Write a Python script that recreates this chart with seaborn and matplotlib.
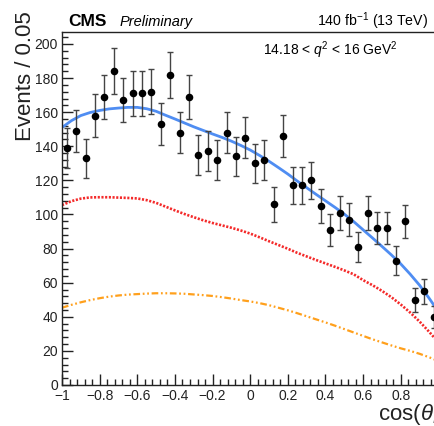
"""
plot.py
-------
cos(theta_K) projection of the fit in the 14.18 < q^2 < 16 GeV^2 bin
(CMS Preliminary, 140 fb^-1). Data points with errors plus the total fit
and its two components. Saves out.png.
"""

import matplotlib
matplotlib.use("Agg")
import matplotlib.pyplot as plt
import matplotlib.ticker as mtick
import pandas as pd
import seaborn as sns

# ---------------------------------------------------------------------------
# Data
# ---------------------------------------------------------------------------

BIN_CENTERS = [
    -0.975, -0.925, -0.875, -0.825, -0.775, -0.725, -0.675, -0.625, -0.575, -0.525,
    -0.475, -0.425, -0.375, -0.325, -0.275, -0.225, -0.175, -0.125, -0.075, -0.025,
    0.025, 0.075, 0.125, 0.175, 0.225, 0.275, 0.325, 0.375, 0.425, 0.475,
    0.525, 0.575, 0.625, 0.675, 0.725, 0.775, 0.825, 0.875, 0.925, 0.975,
]
EVENTS = [
    139, 149, 133, 158, 169, 184, 167, 171, 171, 172,
    153, 182, 148, 169, 135, 137, 132, 148, 134, 145,
    130, 132, 106, 146, 117, 117, 120, 105, 91, 101,
    97, 81, 101, 92, 92, 73, 96, 50, 55, 40,
]
EVENT_ERRORS = [
    11.8, 12.2, 11.5, 12.6, 13.0, 13.6, 12.9, 13.1, 13.1, 13.1,
    12.4, 13.5, 12.1, 13.0, 11.6, 11.7, 11.5, 12.1, 11.6, 12.0,
    11.4, 11.5, 10.3, 12.1, 10.8, 10.8, 10.9, 10.2, 9.5, 10.1,
    9.9, 9.0, 10.1, 9.6, 9.6, 8.5, 9.8, 7.1, 7.4, 6.3,
]

CURVE_X = [
    -1.00, -0.95, -0.90, -0.85, -0.80, -0.75, -0.70, -0.65, -0.60, -0.55,
    -0.50, -0.45, -0.40, -0.35, -0.30, -0.25, -0.20, -0.15, -0.10, -0.05,
    0.00, 0.05, 0.10, 0.15, 0.20, 0.25, 0.30, 0.35, 0.40, 0.45,
    0.50, 0.55, 0.60, 0.65, 0.70, 0.75, 0.80, 0.85, 0.90, 0.95, 1.00,
]
TOTAL_FIT = [
    151.0, 155.0, 158.0, 159.8, 161.0, 161.9, 162.4, 162.8, 162.8, 162.0,
    160.5, 158.2, 156.0, 153.7, 151.4, 149.3, 147.2, 145.2, 143.0, 140.5,
    137.8, 134.6, 131.2, 127.5, 123.7, 119.6, 115.7, 111.8, 108.0, 104.2,
    100.2, 95.8, 91.0, 86.2, 81.3, 76.3, 71.0, 65.0, 58.5, 51.0, 43.0,
]
SIGNAL = [
    105.5, 107.8, 109.3, 110.0, 110.1, 110.1, 109.9, 109.7, 109.4, 108.4,
    106.8, 104.6, 102.4, 100.3, 98.4, 96.6, 95.0, 93.6, 92.2, 90.6,
    88.8, 86.6, 84.3, 82.1, 79.9, 77.5, 75.4, 73.3, 71.3, 69.3,
    67.2, 64.9, 61.5, 58.5, 55.2, 51.5, 47.2, 42.5, 37.2, 31.3, 25.0,
]
BACKGROUND = [
    45.3, 47.0, 48.5, 49.8, 50.9, 51.8, 52.5, 53.0, 53.3, 53.6,
    53.8, 53.8, 53.7, 53.5, 53.1, 52.7, 52.2, 51.5, 50.7, 49.8,
    49.0, 48.0, 46.8, 45.3, 43.8, 42.1, 40.3, 38.5, 36.7, 34.8,
    32.8, 30.8, 28.8, 26.8, 25.0, 23.2, 21.5, 20.0, 18.3, 16.3, 14.0,
]

X_LABEL = r"cos($\theta_{K}$)"
Y_LABEL = "Events / 0.05"

# ---------------------------------------------------------------------------
# Style
# ---------------------------------------------------------------------------

sns.set_theme(style="ticks")
plt.rcParams["font.family"] = ["Liberation Sans", "DejaVu Sans"]
plt.rcParams.update({
    "mathtext.fontset": "custom",
    "mathtext.rm": "Liberation Sans",
    "mathtext.it": "Liberation Sans:italic",
    "mathtext.bf": "Liberation Sans:bold",
    "axes.unicode_minus": True,
})

BLUE = "#4f8df2"
RED = "#f42a2a"
ORANGE = "#ffa01c"


def _fmt(v, _):
    v = round(v, 6)
    if v >= 0.999 and v < 1.001:
        return ""  # sits on the cropped right border in the original
    s = f"{v:g}"
    if s in ("-0", "0"):
        return "0"
    return s.replace("-", "\u2212")


# ---------------------------------------------------------------------------
# Figure
# ---------------------------------------------------------------------------

fig = plt.figure(figsize=(4.34, 4.26), dpi=100)
# axes run a little past the right border, as in the cropped original
ax = fig.add_axes([62 / 434, 41 / 426, 376.4 / 434, 353 / 426])

curves = pd.DataFrame({
    "x": CURVE_X,
    "total": TOTAL_FIT,
    "signal": SIGNAL,
    "background": BACKGROUND,
})

sns.lineplot(data=curves, x="x", y="background", ax=ax, color=ORANGE,
             linewidth=1.6, linestyle=(0, (3.0, 1.2, 0.8, 1.2, 0.8, 1.2)),
             estimator=None, sort=False, legend=False)
sns.lineplot(data=curves, x="x", y="signal", ax=ax, color=RED,
             linewidth=1.9, linestyle=(0, (0.8, 0.6)),
             estimator=None, sort=False, legend=False)
sns.lineplot(data=curves, x="x", y="total", ax=ax, color=BLUE,
             linewidth=2.0, estimator=None, sort=False, legend=False)

ax.errorbar(BIN_CENTERS, EVENTS, yerr=EVENT_ERRORS, fmt="none",
            ecolor="#444444", elinewidth=1.0, capsize=2.4, capthick=1.0, zorder=4)
sns.scatterplot(x=BIN_CENTERS, y=EVENTS, ax=ax, color="black", s=30,
                edgecolor="black", linewidth=0, zorder=5)

ax.set_xlim(-1, 1)
ax.set_ylim(0, 207)

ax.xaxis.set_major_locator(mtick.MultipleLocator(0.2))
ax.xaxis.set_minor_locator(mtick.MultipleLocator(0.04))
ax.yaxis.set_major_locator(mtick.MultipleLocator(20))
ax.yaxis.set_minor_locator(mtick.MultipleLocator(4))
ax.xaxis.set_major_formatter(mtick.FuncFormatter(_fmt))
ax.yaxis.set_major_formatter(mtick.FuncFormatter(_fmt))

ax.tick_params(which="both", direction="in", color="#222222", width=1.0,
               labelsize=10, labelcolor="#222222")
ax.tick_params(which="major", length=8)
ax.tick_params(which="minor", length=4)
ax.tick_params(axis="x", pad=3)
ax.tick_params(axis="y", pad=3)

for side in ["left", "bottom", "top", "right"]:
    ax.spines[side].set_color("#222222")
    ax.spines[side].set_linewidth(1.0)

ax.set_xlabel("")
ax.set_ylabel("")

# labels placed the ROOT way: at the far ends of the axes
fig.text(26 / 434, 1 - 11 / 426, Y_LABEL, rotation=90, ha="center", va="top",
         fontsize=16, color="#222222")
fig.text(378 / 434, 1 - 420 / 426, X_LABEL, ha="left", va="baseline",
         fontsize=16, color="#222222")

fig.text(68 / 434, 1 - 26 / 426, "CMS", ha="left", va="baseline",
         fontsize=12.5, fontweight="bold", color="black")
fig.text(120 / 434, 1 - 26 / 426, "Preliminary", ha="left", va="baseline",
         fontsize=10.5, fontstyle="italic", color="black")
fig.text(428 / 434, 1 - 26 / 426, r"140 fb$^{-1}$ (13 TeV)", ha="right",
         va="baseline", fontsize=10.2, color="black")
fig.text(263 / 434, 1 - 55 / 426, r"14.18 < $q^{2}$ < 16 GeV$^{2}$", ha="left",
         va="baseline", fontsize=10, color="black")

fig.savefig("out.png", dpi=100)
